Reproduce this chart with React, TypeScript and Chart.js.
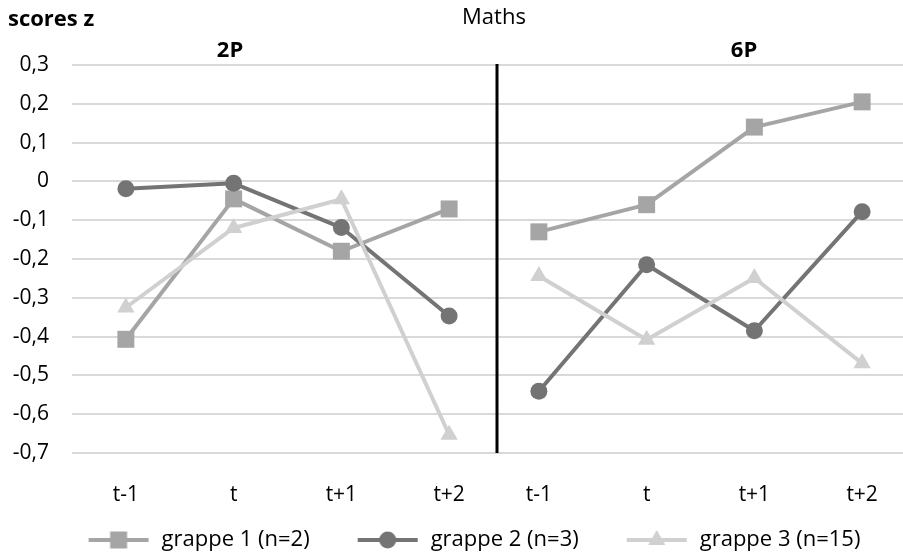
import React, { useEffect, useRef } from "react";
import { Chart, registerables } from "chart.js";

Chart.register(...registerables);

// ---------- data ----------
const categories = ["t-1", "t", "t+1", "t+2"];
const panelTitles = ["2P", "6P"];
const chartTitle = "Maths";
const yAxisTitle = "scores z";
const seriesNames = ["grappe 1 (n=2)", "grappe 2 (n=3)", "grappe 3 (n=15)"];

const grappe1_2P = [-0.407, -0.045, -0.18, -0.071];
const grappe2_2P = [-0.019, -0.005, -0.119, -0.347];
const grappe3_2P = [-0.325, -0.12, -0.046, -0.653];

const grappe1_6P = [-0.13, -0.06, 0.14, 0.205];
const grappe2_6P = [-0.541, -0.215, -0.385, -0.078];
const grappe3_6P = [-0.244, -0.408, -0.249, -0.469];

const yMin = -0.7;
const yMax = 0.3;
const yStep = 0.1;

// ---------- styles ----------
const COLORS = ["#a5a5a5", "#747474", "#d0d0d0"];
const POINT_STYLES = ["rect", "circle", "triangle"];
const POINT_RADII = [12, 8.5, 10];
const FONT = "'Open Sans', 'Noto Sans', sans-serif";
const GRID = "#d9d9d9";

const fmt = (v: number) => {
  if (Math.abs(v) < 1e-9) return "0";
  return v.toFixed(1).replace(".", ",");
};

function makeDatasets(values: number[][]) {
  return values.map((data, i) => ({
    label: seriesNames[i],
    data,
    borderColor: COLORS[i],
    backgroundColor: COLORS[i],
    pointBackgroundColor: COLORS[i],
    pointBorderColor: COLORS[i],
    pointStyle: POINT_STYLES[i],
    pointRadius: POINT_RADII[i],
    pointHoverRadius: POINT_RADII[i],
    pointBorderWidth: 0,
    borderWidth: 4,
    borderJoinStyle: "round",
    tension: 0,
    order: 3 - i,
  }));
}

function legendImage(i: number) {
  const c = document.createElement("canvas");
  c.width = 88;
  c.height = 24;
  const ctx = c.getContext("2d")!;
  const cy = 12;
  const cx = 56;
  ctx.strokeStyle = COLORS[i];
  ctx.lineWidth = 4;
  ctx.beginPath();
  ctx.moveTo(26, cy);
  ctx.lineTo(86, cy);
  ctx.stroke();
  ctx.fillStyle = COLORS[i];
  if (POINT_STYLES[i] === "rect") {
    ctx.fillRect(cx - 8.5, cy - 8.5, 17, 17);
  } else if (POINT_STYLES[i] === "circle") {
    ctx.beginPath();
    ctx.arc(cx, cy, 8.5, 0, Math.PI * 2);
    ctx.fill();
  } else {
    const r = 10;
    ctx.beginPath();
    ctx.moveTo(cx, cy - r);
    ctx.lineTo(cx + r * 0.866, cy + r / 2);
    ctx.lineTo(cx - r * 0.866, cy + r / 2);
    ctx.closePath();
    ctx.fill();
  }
  return c;
}

const tickFont = { family: FONT, size: 21 };

function spacerAxis(width: number) {
  return {
    type: "linear",
    position: "right",
    display: true,
    grid: { display: false },
    border: { display: false },
    ticks: { display: false },
    afterFit: (s: any) => {
      s.width = width;
    },
  };
}

function baseScales(showY: boolean, yWidth: number, spacerWidth: number) {
  return {
    x: {
      type: "category",
      offset: true,
      grid: { display: false },
      border: { display: false },
      ticks: {
        color: "#000",
        font: tickFont,
        padding: 21,
        maxRotation: 0,
        autoSkip: false,
      },
      afterFit: (s: any) => {
        s.height = 54;
      },
    },
    y: {
      type: "linear",
      min: yMin,
      max: yMax,
      grid: { color: GRID, lineWidth: 2, drawTicks: false },
      border: { display: false },
      ticks: {
        display: showY,
        stepSize: yStep,
        color: "#000",
        font: tickFont,
        padding: 23,
        callback: (v: any) => fmt(Number(v)),
      },
      afterFit: (s: any) => {
        s.width = yWidth;
      },
    },
    spacer: spacerAxis(spacerWidth),
  };
}

const textPlugin = {
  id: "panelText",
  afterDraw(chart: any) {
    const { ctx, chartArea } = chart;
    ctx.save();
    // separator between 2P and 6P panels
    ctx.strokeStyle = "#000";
    ctx.lineWidth = 3;
    ctx.beginPath();
    const sx = chartArea.right - 6;
    ctx.moveTo(sx, chartArea.top - 1);
    ctx.lineTo(sx, chartArea.bottom);
    ctx.stroke();

    ctx.fillStyle = "#000";
    ctx.textBaseline = "middle";
    ctx.font = `bold 22px ${FONT}`;
    ctx.textAlign = "left";
    ctx.fillText(yAxisTitle, 8, 20);
    ctx.font = `22px ${FONT}`;
    ctx.textAlign = "center";
    ctx.fillText(chartTitle, 494, 18);
    ctx.font = `bold 22px ${FONT}`;
    ctx.fillText(panelTitles[0], 230, 51);
    ctx.fillText(panelTitles[1], 744, 51);
    ctx.restore();
  },
};

export default function App() {
  const leftRef = useRef<HTMLCanvasElement>(null);
  const rightRef = useRef<HTMLCanvasElement>(null);

  useEffect(() => {
    const images = [0, 1, 2].map(legendImage);

    const left = new Chart(leftRef.current!, {
      type: "line",
      data: {
        labels: categories,
        datasets: makeDatasets([grappe1_2P, grappe2_2P, grappe3_2P]) as any,
      },
      options: {
        animation: false,
        responsive: false,
        maintainAspectRatio: false,
        layout: { padding: { top: 65, left: 0, right: 0, bottom: 0 } },
        scales: baseScales(true, 72, 420) as any,
        plugins: {
          tooltip: { enabled: false },
          title: { display: false },
          legend: {
            display: true,
            position: "bottom",
            align: "center",
            labels: {
              usePointStyle: true,
              pointStyleWidth: 88,
              padding: 22,
              color: "#000",
              font: { family: FONT, size: 22 },
              generateLabels: (chart: any) =>
                chart.data.datasets.map((ds: any, i: number) => ({
                  text: ds.label,
                  pointStyle: images[i],
                  fillStyle: COLORS[i],
                  strokeStyle: COLORS[i],
                  lineWidth: 0,
                  hidden: false,
                  datasetIndex: i,
                  fontColor: "#000",
                })),
            },
          },
        },
      } as any,
      plugins: [textPlugin],
    });

    const right = new Chart(rightRef.current!, {
      type: "line",
      data: {
        labels: categories,
        datasets: makeDatasets([grappe1_6P, grappe2_6P, grappe3_6P]) as any,
      },
      options: {
        animation: false,
        responsive: false,
        maintainAspectRatio: false,
        layout: { padding: { top: 65, left: 0, right: 0, bottom: 0 } },
        scales: baseScales(false, 20, 20) as any,
        plugins: {
          tooltip: { enabled: false },
          title: { display: false },
          legend: { display: false },
        },
      } as any,
    });

    return () => {
      left.destroy();
      right.destroy();
    };
  }, []);

  return (
    <div
      style={{
        position: "fixed",
        left: 0,
        top: 0,
        width: 903,
        height: 555,
        overflow: "hidden",
        background: "#fff",
      }}
    >
      <canvas
        ref={rightRef}
        width={471}
        height={507}
        style={{ position: "absolute", left: 465, top: 0, width: 471, height: 507, zIndex: 1 }}
      />
      <canvas
        ref={leftRef}
        width={923}
        height={561}
        style={{ position: "absolute", left: 0, top: 0, width: 923, height: 561, zIndex: 2 }}
      />
    </div>
  );
}
